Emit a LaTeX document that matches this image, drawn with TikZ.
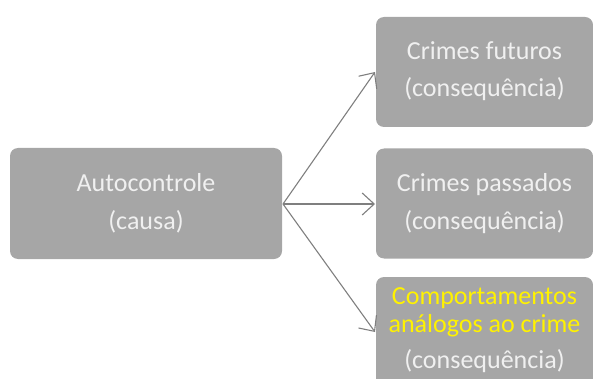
\documentclass[tikz,border=0pt]{standalone}
\usepackage{fontspec}
\setmainfont{Carlito}
\usetikzlibrary{arrows.meta}
\definecolor{boxgray}{HTML}{A6A6A6}
\definecolor{txtgray}{HTML}{F0F0F0}
\definecolor{linegray}{HTML}{7F7F7F}
\begin{document}
\begin{tikzpicture}[x=1pt,y=-1pt,
  box/.style={fill=boxgray,rounded corners=8pt,inner sep=0pt,minimum width=217pt,minimum height=110pt},
  txt/.style={anchor=base,inner sep=0pt,text=txtgray,font=\fontsize{26}{30}\selectfont},
  ytxt/.style={txt,text=yellow},
  conn/.style={draw=linegray,line width=1.1pt,-{Straight Barb[length=12pt,width=22pt,line width=1.1pt]}}]
\useasboundingbox (0,0) rectangle (593,379);
\begin{scope}
\clip (0,0) rectangle (593,379);
\node[box,minimum width=272pt,minimum height=111pt] (cause) at (146,203.5) {};
\node[box] (fut) at (484.5,72) {};
\node[box] (pas) at (484.5,203.5) {};
\node[box] (ana) at (484.5,332) {};
\end{scope}
\node[txt] (t1) at (146,192) {Autocontrole};
\node[txt] (t2) at (146,229) {(causa)};
\node[txt] (f1) at (484.5,60) {Crimes futuros};
\node[txt] (f2) at (484.5,97) {(consequência)};
\node[txt] (p1) at (484.5,192) {Crimes passados};
\node[txt] (p2) at (484.5,229) {(consequência)};
\node[ytxt] (a1) at (484.5,304) {Comportamentos};
\node[ytxt] (a2) at (484.5,332) {análogos ao crime};
\node[txt] (a3) at (484.5,368) {(consequência)};
\coordinate (src) at (283,204);
\coordinate (e1) at (375,72);
\coordinate (e2) at (375,204);
\coordinate (e3) at (375,332);
\draw[conn] (src) -- (e1);
\draw[conn] (src) -- (e2);
\draw[conn] (src) -- (e3);
\end{tikzpicture}
\end{document}
